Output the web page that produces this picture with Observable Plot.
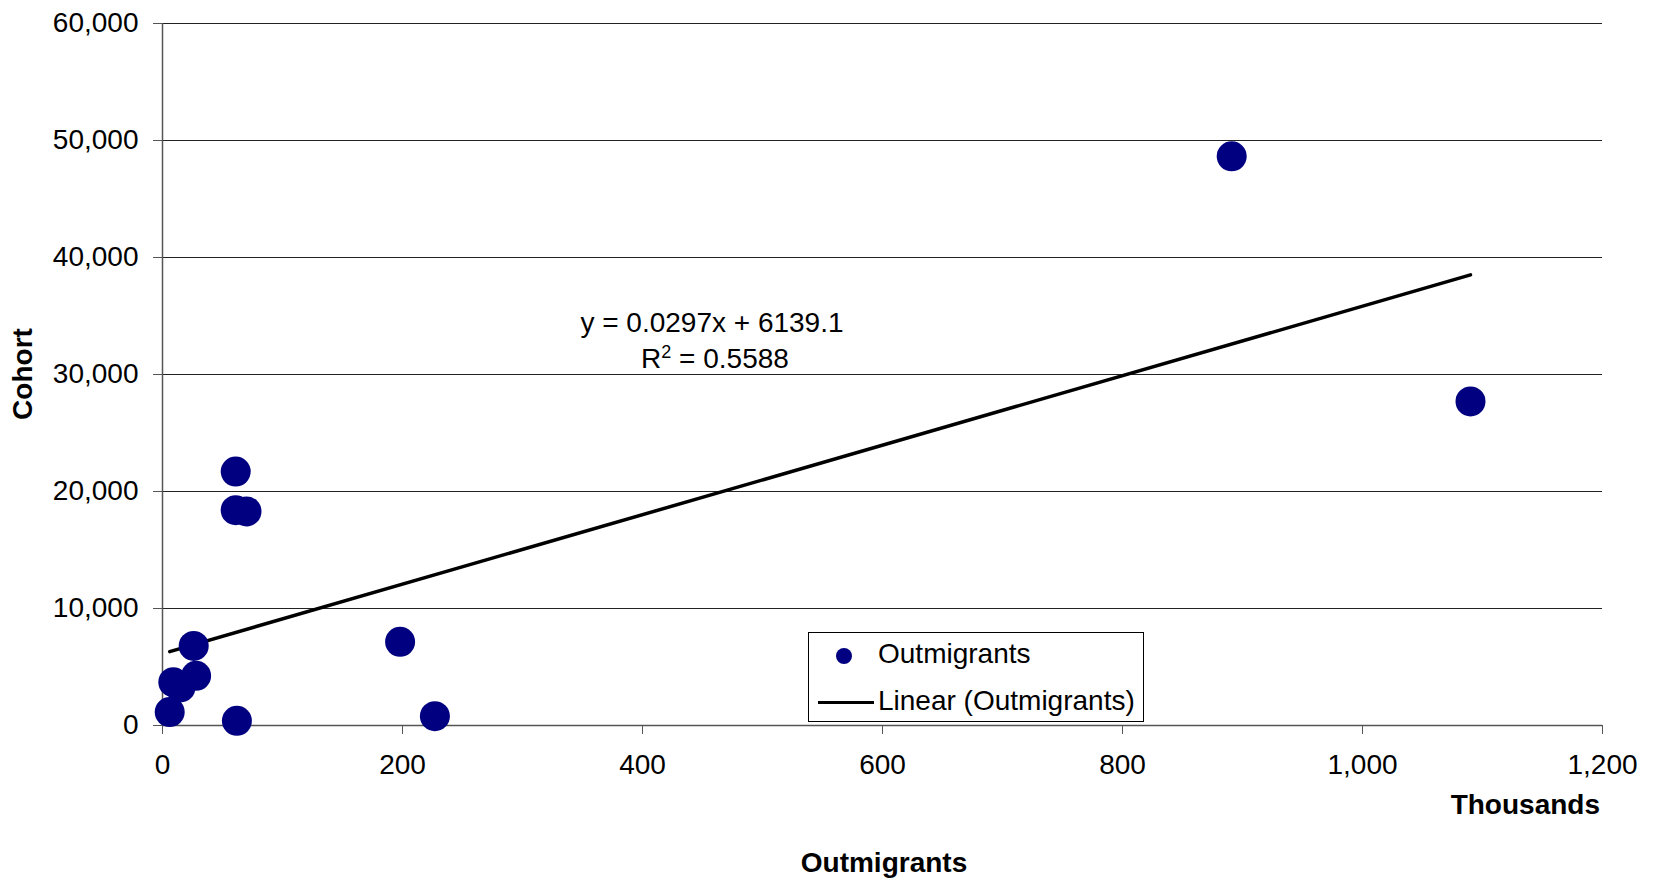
<!DOCTYPE html>
<html>
<head>
<meta charset="utf-8">
<script src="https://cdn.jsdelivr.net/npm/d3@7"></script>
<script src="https://cdn.jsdelivr.net/npm/@observablehq/plot@0.6"></script>
<style>
  html, body { margin: 0; padding: 0; background: #fff; }
  #wrap { position: relative; width: 1654px; height: 878px; font-family: "Liberation Sans", Arial, sans-serif; color: #000; }
  #wrap svg { position: absolute; left: 0; top: 0; }
  .lbl { position: absolute; font-size: 28px; line-height: 28px; white-space: nowrap; }
  .bold { font-weight: bold; }
  #legend { position: absolute; left: 808px; top: 632px; width: 334px; height: 88px; border: 1px solid #000; background: #fff; }
  #legend .sw-dot { position: absolute; left: 27px; top: 15px; width: 16px; height: 16px; border-radius: 50%; background: #000080; }
  #legend .sw-line { position: absolute; left: 9px; top: 68px; width: 56px; height: 3px; background: #000; }
  #legend .t { position: absolute; left: 69px; font-size: 28px; line-height: 28px; white-space: nowrap; }
</style>
</head>
<body>
<div id="wrap"></div>
<script>
// Outmigrants (thousands) and cohort values
const outmigrants = [61, 61, 70, 26, 28, 9, 15, 6, 62, 198, 227, 891, 1090];
const cohort      = [21700, 18400, 18300, 6800, 4250, 3700, 3250, 1150, 400, 7150, 800, 48650, 27700];

// Linear trend (as printed on the chart): y = 0.0297x + 6139.1, x in units (outmigrants x 1000)
const trendSlope = 0.0297;
const trendIntercept = 6139.1;
const trendR2 = 0.5588;

const xTicks = [0, 200, 400, 600, 800, 1000, 1200];
const yTicks = [0, 10000, 20000, 30000, 40000, 50000, 60000];

const points = outmigrants.map((x, i) => ({x, y: cohort[i]}));
const xMin = d3.min(outmigrants), xMax = d3.max(outmigrants);
const trend = [xMin, xMax].map(x => ({x, y: trendSlope * x * 1000 + trendIntercept}));

const fmt = d3.format(",");
const chart = Plot.plot({
  width: 1654,
  height: 878,
  marginLeft: 162,
  marginRight: 52,
  marginTop: 23,
  marginBottom: 153,
  style: {fontFamily: "'Liberation Sans', Arial, sans-serif", fontSize: "28px", color: "#000", background: "transparent"},
  x: {domain: [0, 1200], label: null},
  y: {domain: [0, 60000], label: null},
  marks: [
    Plot.gridY(yTicks.filter(d => d > 0), {stroke: "#222", strokeOpacity: 1, strokeWidth: 1}),
    Plot.axisY(yTicks, {tickSize: 9, tickPadding: 15, tickFormat: fmt, stroke: "#555", fill: "#000", fontSize: 28, label: null}),
    Plot.axisX(xTicks, {tickSize: 9, tickPadding: 20, tickFormat: fmt, stroke: "#555", fill: "#000", fontSize: 28, label: null}),
    Plot.ruleX([0], {stroke: "#555", strokeWidth: 1.5}),
    Plot.ruleY([0], {stroke: "#555", strokeWidth: 1.5}),
    Plot.line(trend, {x: "x", y: "y", stroke: "#000", strokeWidth: 3.5}),
    Plot.dot(points, {x: "x", y: "y", r: 15, fill: "#000080", stroke: "none"})
  ]
});

const wrap = document.getElementById("wrap");
wrap.appendChild(chart);

function addLabel(html, css, cls) {
  const d = document.createElement("div");
  d.className = "lbl " + (cls || "");
  d.innerHTML = html;
  Object.assign(d.style, css);
  wrap.appendChild(d);
  return d;
}

addLabel("Cohort", {left: "23px", top: "374px", transform: "translate(-50%,-50%) rotate(-90deg)"}, "bold");
addLabel("Thousands", {left: "1600px", top: "805px", transform: "translate(-100%,-50%)"}, "bold");
addLabel("Outmigrants", {left: "884px", top: "863px", transform: "translate(-50%,-50%)"}, "bold");
addLabel(`y = ${trendSlope}x + ${trendIntercept}`, {left: "712px", top: "323px", transform: "translate(-50%,-50%)"});
addLabel(`R<sup style="font-size:18px;vertical-align:10px;line-height:0">2</sup> = ${trendR2}`, {left: "715px", top: "359px", transform: "translate(-50%,-50%)"});

const legend = document.createElement("div");
legend.id = "legend";
legend.innerHTML = `<div class="sw-dot"></div><div class="t" style="top:7px">Outmigrants</div>
<div class="sw-line"></div><div class="t" style="top:54px">Linear (Outmigrants)</div>`;
wrap.appendChild(legend);
</script>
</body>
</html>
